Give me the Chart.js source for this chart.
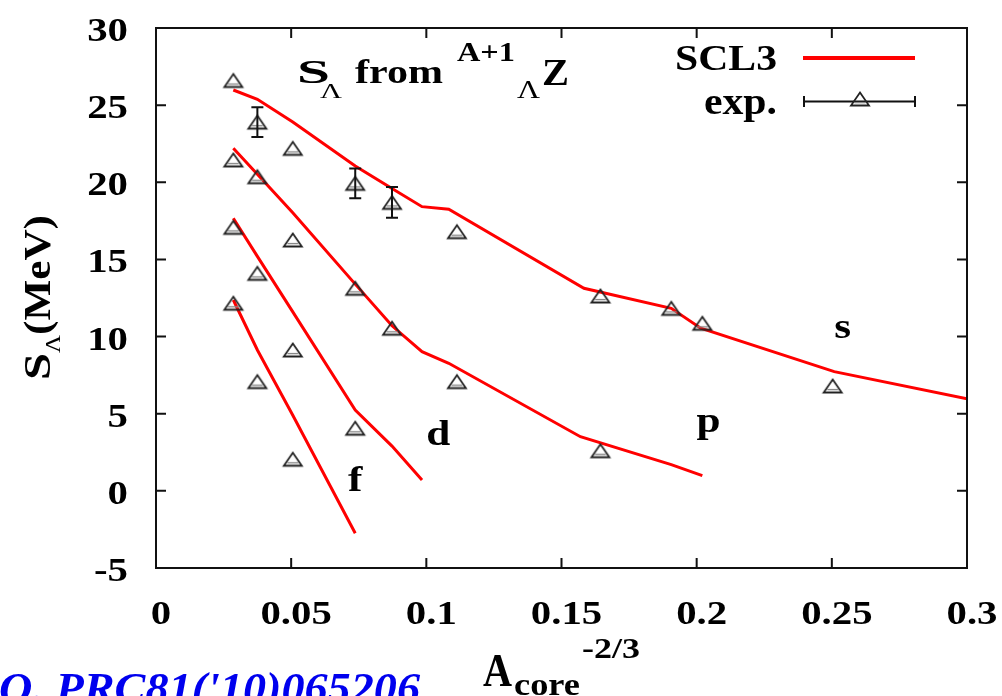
<!DOCTYPE html>
<html>
<head>
<meta charset="utf-8">
<title>S_Λ from hypernuclei</title>
<script src="https://cdn.jsdelivr.net/npm/chart.js@4.4.1/dist/chart.umd.min.js"></script>
<style>
  html, body { margin: 0; padding: 0; background: #fff; }
  #wrap { width: 1002px; height: 696px; position: relative; }
  #probe { position: absolute; left: -9999px; font-family: "Liberation Serif"; }
</style>
</head>
<body>
<div id="wrap"><canvas id="chart"></canvas></div>
<span id="probe"><b>S</b><i><b>Q</b></i>Λ</span>
<script>
// SCL3 results, one line per Lambda shell
const sX = [0.0286, 0.0375, 0.0506, 0.0737, 0.0873, 0.0984, 0.1083, 0.1583, 0.1906, 0.2015, 0.2509, 0.3];
const sY = [25.98, 25.38, 23.9, 21.05, 19.6, 18.42, 18.25, 13.13, 11.83, 10.54, 7.73, 5.96];
const pX = [0.0286, 0.0375, 0.0506, 0.0737, 0.0873, 0.0984, 0.1083, 0.157, 0.1906, 0.2021];
const pY = [22.2, 20.52, 18.03, 13.4, 10.7, 9.02, 8.27, 3.51, 1.7, 0.99];
const dX = [0.0286, 0.0375, 0.0506, 0.0737, 0.0873, 0.0984];
const dY = [17.67, 15.2, 11.6, 5.24, 2.9, 0.71];
const fX = [0.0286, 0.0375, 0.0506, 0.0737];
const fY = [12.37, 9.13, 4.9, -2.75];

// measured separation energies (s, p, d, f shells), error 0 = no bar
const expX = [0.0286, 0.0375, 0.0506, 0.0737, 0.0873, 0.1113, 0.1644, 0.1906, 0.2021, 0.2503,
              0.0286, 0.0375, 0.0506, 0.0737, 0.0873, 0.1113, 0.1644,
              0.0286, 0.0375, 0.0506, 0.0737,
              0.0286, 0.0375, 0.0506];
const expY = [26.6, 23.9, 22.2, 19.93, 18.7, 16.8, 12.63, 11.83, 10.86, 6.8,
              21.45, 20.36, 16.26, 13.13, 10.54, 7.08, 2.6,
              17.08, 14.1, 9.13, 4.06,
              12.16, 7.08, 2.05];
const expErr = [0, 0.96, 0, 0.97, 1.0, 0, 0, 0, 0, 0,
                0, 0, 0, 0, 0, 0, 0,
                0, 0, 0, 0,
                0, 0, 0];

const xTickValues = [0, 0.05, 0.1, 0.15, 0.2, 0.25, 0.3];
const xTickLabels = ['0', '0.05', '0.1', '0.15', '0.2', '0.25', '0.3'];
const yTickValues = [-5, 0, 5, 10, 15, 20, 25, 30];
const yTickLabels = ['-5', '0', '5', '10', '15', '20', '25', '30'];

const FONT = '"Liberation Serif", "Times New Roman", serif';
const RED = '#ff0000';

// draws text stretched horizontally; with o.width the text is fitted to that width
function putText(ctx, str, x, y, size, o = {}) {
  ctx.save();
  ctx.font = `${o.italic ? 'italic ' : ''}${o.weight || 'bold'} ${size}px ${FONT}`;
  ctx.fillStyle = o.color || '#000';
  ctx.textBaseline = 'alphabetic';
  ctx.textAlign = 'left';
  const w = ctx.measureText(str).width;
  const sx = o.width ? o.width / w : (o.sx || 1.2);
  let x0 = x;
  if (o.align === 'right') x0 = x - w * sx;
  else if (o.align === 'center') x0 = x - w * sx / 2;
  ctx.translate(x0, y);
  ctx.scale(sx, 1);
  ctx.fillText(str, 0, 0);
  ctx.restore();
  return w * sx;
}

// open triangle marker
function makeTriangle() {
  const c = document.createElement('canvas');
  c.width = 24; c.height = 20;
  const g = c.getContext('2d');
  g.strokeStyle = '#222';
  g.lineWidth = 1.8;
  g.beginPath();
  g.moveTo(12, 3.5); g.lineTo(21, 16.5); g.lineTo(3, 16.5); g.closePath();
  g.stroke();
  g.strokeStyle = '#888';
  g.lineWidth = 1.4;
  g.beginPath(); g.moveTo(6.5, 13.6); g.lineTo(17.5, 13.6); g.stroke();
  return c;
}
const triangle = makeTriangle();

const lineSet = (xs, ys, label) => ({
  label: label,
  data: xs.map((x, i) => ({ x: x, y: ys[i] })),
  showLine: true,
  borderColor: RED,
  borderWidth: 3,
  pointRadius: 0,
  tension: 0,
  fill: false,
  order: 2
});

// vertical error bars with caps
const errorBars = {
  id: 'errorBars',
  afterDatasetsDraw(chart) {
    const ctx = chart.ctx, xs = chart.scales.x, ys = chart.scales.y;
    ctx.save();
    ctx.strokeStyle = '#111';
    ctx.lineWidth = 2;
    expX.forEach((x, i) => {
      if (!expErr[i]) return;
      const px = xs.getPixelForValue(x);
      const top = ys.getPixelForValue(expY[i] + expErr[i]);
      const bot = ys.getPixelForValue(expY[i] - expErr[i]);
      ctx.beginPath();
      ctx.moveTo(px, top); ctx.lineTo(px, bot);
      ctx.moveTo(px - 6, top); ctx.lineTo(px + 6, top);
      ctx.moveTo(px - 6, bot); ctx.lineTo(px + 6, bot);
      ctx.stroke();
    });
    ctx.restore();
  }
};

// frame, inward ticks, tick labels, titles and legend
const decorations = {
  id: 'decorations',
  afterDraw(chart) {
    const ctx = chart.ctx, a = chart.chartArea;
    const xs = chart.scales.x, ys = chart.scales.y;
    ctx.save();
    ctx.strokeStyle = '#111';
    ctx.lineWidth = 2;
    ctx.strokeRect(a.left, a.top, a.right - a.left, a.bottom - a.top);
    ctx.beginPath();
    xs.ticks.forEach(t => {
      const px = xs.getPixelForValue(t.value);
      ctx.moveTo(px, a.bottom); ctx.lineTo(px, a.bottom - 10);
      ctx.moveTo(px, a.top); ctx.lineTo(px, a.top + 10);
    });
    ys.ticks.forEach(t => {
      const py = ys.getPixelForValue(t.value);
      ctx.moveTo(a.left, py); ctx.lineTo(a.left + 10, py);
      ctx.moveTo(a.right, py); ctx.lineTo(a.right - 10, py);
    });
    ctx.stroke();
    ctx.restore();

    xs.ticks.forEach((t, i) => {
      putText(ctx, xTickLabels[i], xs.getPixelForValue(t.value) + 5, 624, 34, { align: 'center' });
    });
    ys.ticks.forEach((t, i) => {
      putText(ctx, yTickLabels[i], 128, ys.getPixelForValue(t.value) + 13, 34, { align: 'right' });
    });

    // shell labels
    [['s', 0.254, 9.9], ['p', 0.2044, 3.82], ['d', 0.1044, 2.97], ['f', 0.0737, 0.0]].forEach(l => {
      putText(ctx, l[0], xs.getPixelForValue(l[1]), ys.getPixelForValue(l[2]), 36, { align: 'center' });
    });

    // title inside the frame
    putText(ctx, 'S', 297, 83, 33, { width: 33 });
    putText(ctx, 'Λ', 320, 98, 20, { width: 22, weight: 'normal' });
    putText(ctx, 'from', 355, 83, 33, { width: 88 });
    putText(ctx, 'A+1', 457, 61, 27, { width: 58 });
    putText(ctx, 'Λ', 517, 98, 26, { width: 23, weight: 'normal' });
    putText(ctx, 'Z', 542, 85, 37, { width: 27 });

    // legend
    putText(ctx, 'SCL3', 777, 70, 36, { align: 'right', width: 102 });
    putText(ctx, 'exp.', 777, 114, 38, { align: 'right', width: 73 });
    ctx.save();
    ctx.strokeStyle = RED;
    ctx.lineWidth = 4;
    ctx.beginPath(); ctx.moveTo(803, 58); ctx.lineTo(915, 58); ctx.stroke();
    ctx.strokeStyle = '#111';
    ctx.lineWidth = 2;
    ctx.beginPath();
    ctx.moveTo(803, 101.5); ctx.lineTo(916, 101.5);
    ctx.moveTo(804, 96); ctx.lineTo(804, 107);
    ctx.moveTo(915, 96); ctx.lineTo(915, 107);
    ctx.stroke();
    ctx.drawImage(triangle, 860 - 12, 99 - 10);
    ctx.restore();

    // axis titles
    putText(ctx, 'A', 483, 686, 46, { width: 29 });
    putText(ctx, 'core', 514, 695, 32, { width: 66 });
    putText(ctx, '-2/3', 582, 658, 30, { width: 58 });

    ctx.save();
    ctx.translate(50, 380);
    ctx.rotate(-Math.PI / 2);
    putText(ctx, 'S', 0, 0, 38, { width: 27 });
    putText(ctx, 'Λ', 27, 10, 20, { width: 18, weight: 'normal' });
    putText(ctx, '(MeV)', 45, 0, 38, { width: 120 });
    ctx.restore();

    putText(ctx, "Q. PRC81('10)065206", 420, 703, 44, { align: 'right', italic: true, color: '#0000ee', sx: 1.05 });
  }
};

function draw() {
  new Chart(document.getElementById('chart'), {
    type: 'scatter',
    data: {
      datasets: [
        lineSet(sX, sY, 'SCL3'),
        lineSet(pX, pY, 'SCL3 p'),
        lineSet(dX, dY, 'SCL3 d'),
        lineSet(fX, fY, 'SCL3 f'),
        {
          label: 'exp.',
          data: expX.map((x, i) => ({ x: x, y: expY[i] })),
          pointStyle: triangle,
          pointRadius: 9,
          showLine: false,
          order: 1
        }
      ]
    },
    options: {
      responsive: true,
      maintainAspectRatio: false,
      animation: false,
      layout: { padding: { top: 28, right: 35, left: 0, bottom: 0 } },
      plugins: { legend: { display: false }, tooltip: { enabled: false } },
      scales: {
        x: {
          type: 'linear', min: 0, max: 0.3,
          afterBuildTicks: s => { s.ticks = xTickValues.map(v => ({ value: v })); },
          afterFit: s => { s.height = 128; },
          ticks: { display: false },
          grid: { display: false },
          border: { display: false }
        },
        y: {
          type: 'linear', min: -5, max: 30,
          afterBuildTicks: s => { s.ticks = yTickValues.map(v => ({ value: v })); },
          afterFit: s => { s.width = 156; },
          ticks: { display: false },
          grid: { display: false },
          border: { display: false }
        }
      }
    },
    plugins: [errorBars, decorations]
  });
}

// make sure the serif faces are ready before the canvas text is drawn
Promise.all([
  document.fonts.load('bold 34px "Liberation Serif"'),
  document.fonts.load('normal 34px "Liberation Serif"'),
  document.fonts.load('italic bold 34px "Liberation Serif"')
]).then(draw, draw);
</script>
</body>
</html>
